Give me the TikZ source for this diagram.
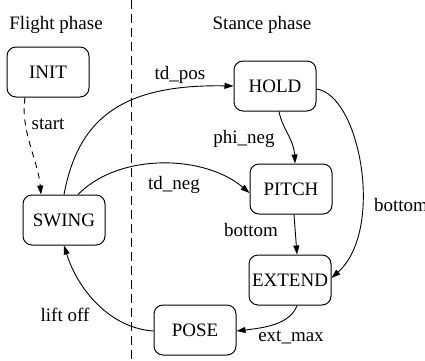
\documentclass[tikz,border=0pt]{standalone}
\usepackage{fontspec}
\setmainfont{Liberation Serif}
\usetikzlibrary{arrows.meta}
\begin{document}
\begin{tikzpicture}[x=1pt,y=-1pt,
  font=\fontsize{19}{22}\selectfont,
  state/.style={draw,line width=1pt,rounded corners=9pt,minimum width=82pt,minimum height=50pt,inner sep=0pt},
  trans/.style={line width=0.9pt,-{Triangle[length=9pt,width=6pt]}},
  lbl/.style={inner sep=0pt}]
\useasboundingbox (0,0) rectangle (425,360);

% phase divider
\coordinate (divtop) at (131,0);
\coordinate (divbot) at (131,360);
\draw[line width=0.9pt,dash pattern=on 9pt off 5pt] (divtop) -- (divbot);

\node[lbl] (flight) at (56,25) {Flight phase};
\node[lbl] (stance) at (262,25) {Stance phase};

% states
\node[state] (init)   at (48,72)   {INIT};
\node[state] (swing)  at (64,220)  {SWING};
\node[state] (hold)   at (275,86)  {HOLD};
\node[state] (pitch)  at (291,189) {PITCH};
\node[state] (extend) at (290,280) {EXTEND};
\node[state] (pose)   at (195,330) {POSE};

% transitions
\draw[trans,dash pattern=on 6pt off 5pt] ([xshift=-23pt]init.south)
  .. controls (20,130) and (38,160) .. ([xshift=-23pt]swing.north);
\draw[trans] (swing.north) .. controls (78,120) and (120,84) .. (hold.west);
\draw[trans] ([xshift=14pt]swing.north) .. controls (120,152) and (205,155) .. ([yshift=-4pt]pitch.west);
\draw[trans] ([xshift=4pt]hold.south) .. controls (282,128) and (294,140) .. ([xshift=4pt]pitch.north);
\draw[trans] ([yshift=-3pt]hold.east) .. controls (360,95) and (385,230) .. ([yshift=2pt]extend.east);
\draw[trans] ([xshift=3pt]pitch.south) -- ([xshift=7pt]extend.north);
\draw[trans] ([xshift=7pt]extend.south) .. controls (290,325) and (262,328) .. ([yshift=-1pt]pose.east);
\draw[trans] ([yshift=-1pt]pose.west) .. controls (110,328) and (78,290) .. (swing.south);

% transition labels
\node[lbl] (lstart)  at (48,124)  {start};
\node[lbl] (ltdpos)  at (180,75)  {td\_pos};
\node[lbl] (ltdneg)  at (174,185) {td\_neg};
\node[lbl] (lphi)    at (244,139) {phi\_neg};
\node[lbl] (lbotr)   at (401,205) {bottom};
\node[lbl] (lbotl)   at (251,230) {bottom};
\node[lbl] (lext)    at (291,337) {ext\_max};
\node[lbl] (llift)   at (65,315)  {lift off};
\end{tikzpicture}
\end{document}
